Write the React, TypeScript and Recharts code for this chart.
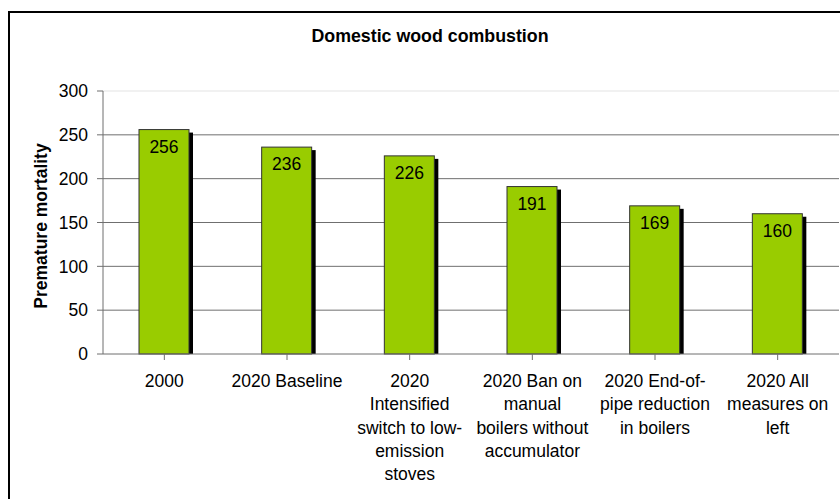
import React from "react";
import { BarChart, Bar, XAxis, YAxis, CartesianGrid, LabelList, ReferenceLine, Customized } from "recharts";

// Premature mortality from domestic wood combustion, by scenario
const categories = [
  "2000",
  "2020 Baseline",
  "2020\nIntensified\nswitch to low-\nemission\nstoves",
  "2020 Ban on\nmanual\nboilers without\naccumulator",
  "2020 End-of-\npipe reduction\nin boilers",
  "2020 All\nmeasures on\nleft",
];
const mortality = [256, 236, 226, 191, 169, 160];
const yTicks = [0, 50, 100, 150, 200, 250, 300];

const data = categories.map((name, i) => ({ name, value: mortality[i] }));

const FONT = "'Liberation Sans', Arial, sans-serif";
const FS = 17.5;

// Green column with a solid black drop shadow to the lower right
const ShadowBar = (props: any) => {
  const { x, y, width, height } = props;
  if (height <= 0) return null;
  return (
    <g>
      <rect x={x + 4} y={y + 3} width={width} height={height - 3} fill="#000" />
      <rect x={x} y={y} width={width} height={height} fill="#99CC00" stroke="#333" strokeWidth={1} />
    </g>
  );
};

const ValueLabel = (props: any) => {
  const { x, y, width, value } = props;
  return (
    <text x={x + width / 2} y={y + 23} textAnchor="middle" fontFamily={FONT} fontSize={FS} fill="#000">
      {value}
    </text>
  );
};

const CategoryTick = (props: any) => {
  const { x, y, payload } = props;
  const lines = String(payload.value).split("\n");
  return (
    <text x={x} y={y} textAnchor="middle" fontFamily={FONT} fontSize={FS} fill="#000">
      {lines.map((ln, i) => (
        <tspan key={i} x={x} y={y + 25 + i * 23.3}>
          {ln}
        </tspan>
      ))}
    </text>
  );
};

const Title = () => (
  <text x={430} y={42} textAnchor="middle" fontFamily={FONT} fontSize={17.8} fontWeight="bold" fill="#000">
    Domestic wood combustion
  </text>
);

const YTitle = () => (
  <text
    transform="translate(47,226) rotate(-90)"
    textAnchor="middle"
    fontFamily={FONT}
    fontSize={FS}
    fontWeight="bold"
    fill="#000"
  >
    Premature mortality
  </text>
);

export default function App() {
  return (
    <div style={{ position: "fixed", left: 0, top: 0, width: 840, height: 499, overflow: "hidden", background: "#fff" }}>
      <div
        style={{
          position: "absolute",
          left: 8,
          top: 11,
          width: 900,
          height: 600,
          border: "2px solid #000",
          boxSizing: "border-box",
        }}
      />
      <div style={{ position: "absolute", left: 0, top: 0 }}>
        <BarChart
          width={840}
          height={499}
          data={data}
          margin={{ top: 91, right: 1, bottom: 115, left: 43 }}
          barCategoryGap={0}
        >
          <CartesianGrid vertical={false} horizontalValues={[50, 100, 150, 200, 250]} stroke="#6f6f6f" strokeWidth={1} />
          <ReferenceLine y={300} stroke="#e3e3e3" strokeWidth={1} />
          <XAxis
            dataKey="name"
            interval={0}
            height={30}
            tickSize={6}
            tickMargin={2}
            stroke="#6f6f6f"
            tickLine={{ stroke: "#6f6f6f" }}
            tick={<CategoryTick />}
          />
          <YAxis
            domain={[0, 300]}
            ticks={yTicks}
            width={60}
            tickSize={6}
            tickMargin={9}
            stroke="#6f6f6f"
            tick={{ fill: "#000", fontFamily: FONT, fontSize: FS }}
            interval={0}
          />
          <Bar dataKey="value" barSize={50} shape={<ShadowBar />} isAnimationActive={false}>
            <LabelList dataKey="value" content={<ValueLabel />} />
          </Bar>
          <Customized component={<Title />} />
          <Customized component={<YTitle />} />
        </BarChart>
      </div>
    </div>
  );
}
